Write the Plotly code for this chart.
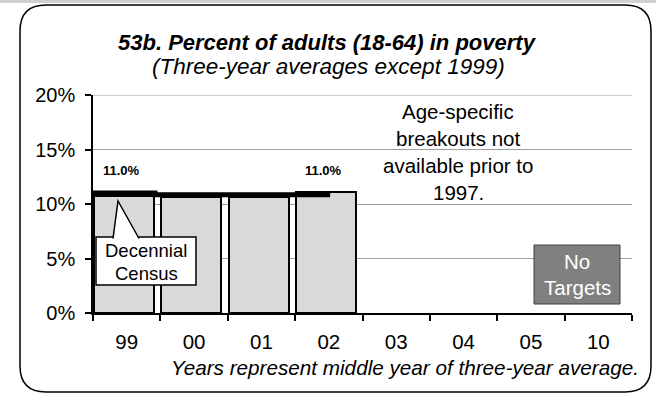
import plotly.graph_objects as go

categories = ["99", "00", "01", "02", "03", "04", "05", "10"]
bar_values = [10.7, 10.6, 10.6, 11.1]
line_x = [0, 0.92, 0.92, 3.52]
line_y = [11.0, 11.0, 10.85, 10.85]
label_cats = [0, 3]
label_text = ["11.0%", "11.0%"]
y_ticks = [0, 5, 10, 15, 20]

FONT = "Liberation Sans, Arial, sans-serif"

# pixel -> paper helpers (plot area in pixels)
PL, PR, PT, PB = 93, 632, 95, 313
def px(v): return (v - PL) / (PR - PL)
def py(v): return (PB - v) / (PB - PT)

fig = go.Figure()
bar_x = [i + 0.46 for i in range(len(bar_values))]
fig.add_trace(go.Bar(x=bar_x, y=bar_values, width=0.89,
                     marker=dict(color="#d9d9d9", line=dict(color="black", width=2)),
                     hoverinfo="skip", showlegend=False))
fig.add_trace(go.Scatter(x=line_x, y=line_y, mode="lines",
                         line=dict(color="black", width=5), showlegend=False, hoverinfo="skip"))

for c, t in zip(label_cats, label_text):
    fig.add_annotation(x=c + 0.42, y=13.1, text="<b>" + t + "</b>", showarrow=False,
                       xanchor="center", yanchor="middle",
                       font=dict(family=FONT, size=13, color="black"))

l, r, t, b, rad = 20, 651, 5, 392, 26
path = (f"M {px(l+rad)} {py(t)} L {px(r-rad)} {py(t)} Q {px(r)} {py(t)} {px(r)} {py(t+rad)} "
        f"L {px(r)} {py(b-rad)} Q {px(r)} {py(b)} {px(r-rad)} {py(b)} "
        f"L {px(l+rad)} {py(b)} Q {px(l)} {py(b)} {px(l)} {py(b-rad)} "
        f"L {px(l)} {py(t+rad)} Q {px(l)} {py(t)} {px(l+rad)} {py(t)} Z")
shapes = [
    dict(type="rect", xref="paper", yref="paper", x0=px(0), x1=px(656), y0=py(0), y1=py(3),
         fillcolor="#d0d0d0", line=dict(width=0), layer="below"),
    dict(type="path", xref="paper", yref="paper", path=path,
         line=dict(color="black", width=1.5), layer="below"),
    # top gridline (20%)
    dict(type="line", xref="paper", yref="y", x0=0, x1=1, y0=20, y1=20,
         line=dict(color="#a0a0a0", width=1), layer="between"),
    # white backing of the note (hides gridlines)
    dict(type="rect", xref="paper", yref="paper", x0=px(378), x1=px(537), y0=py(206), y1=py(99),
         fillcolor="white", line=dict(width=0), layer="between"),
    # Decennial Census callout box + pointer
    dict(type="rect", xref="paper", yref="paper", x0=px(96), x1=px(196), y0=py(285), y1=py(237),
         fillcolor="white", line=dict(color="black", width=1.5), layer="above"),
    dict(type="path", xref="paper", yref="paper",
         path=f"M {px(113)} {py(238.5)} L {px(118)} {py(201)} L {px(139)} {py(238.5)}",
         fillcolor="white", line=dict(color="black", width=1.5), layer="above"),
    # No Targets box
    dict(type="rect", xref="paper", yref="paper", x0=px(534), x1=px(620), y0=py(304), y1=py(245),
         fillcolor="#808080", line=dict(color="#404040", width=1), layer="above"),
]
fig.update_layout(shapes=shapes)

def note(xp, yp, text, size, color="black", anchor="center"):
    fig.add_annotation(x=px(xp), y=py(yp), xref="paper", yref="paper", text=text,
                       showarrow=False, xanchor=anchor, yanchor="middle",
                       font=dict(family=FONT, size=size, color=color))

note(146, 250, "Decennial", 18.5)
note(146, 273, "Census", 18.5)

for i, line in enumerate(["Age-specific", "breakouts not", "available prior to", "1997."]):
    note(458, 111 + 27.3 * i, line, 20.5)

note(577, 261, "No", 20.5, "white")
note(577, 287, "Targets", 20.5, "white")

note(327, 42, "<b><i>53b. Percent of adults (18-64) in poverty</i></b>", 22)
note(328, 66, "<i>(Three-year averages except 1999)</i>", 22.5)
note(641, 367, "<i>Years represent middle year of three-year average.</i>", 20.7, anchor="right")

fig.update_xaxes(range=[0, 8], tickvals=[i + 0.5 for i in range(len(categories))],
                 ticktext=categories, ticks="", showgrid=False, zeroline=False,
                 showline=True, linecolor="black", linewidth=1.5, ticklabelstandoff=10,
                 tickfont=dict(family=FONT, size=20.5, color="black"),
                 minor=dict(ticks="outside", tick0=0, dtick=1, ticklen=6, tickcolor="black",
                            tickwidth=1.5, showgrid=False))
fig.update_yaxes(range=[0, 20], tickvals=y_ticks, ticktext=[f"{v}%" for v in y_ticks],
                 ticks="outside", ticklen=6, tickcolor="black", tickwidth=1.5,
                 showline=True, linecolor="black", linewidth=1.5, ticklabelstandoff=6,
                 showgrid=True, gridcolor="#a0a0a0", gridwidth=1, zeroline=False,
                 tickfont=dict(family=FONT, size=20, color="black"))

fig.update_layout(width=656, height=394, margin=dict(l=PL, r=656 - PR, t=PT, b=394 - PB),
                  paper_bgcolor="white", plot_bgcolor="white", bargap=0, showlegend=False)

fig.write_html("out.html", config={"displayModeBar": False},
               post_script="document.body.style.margin='0px';")
